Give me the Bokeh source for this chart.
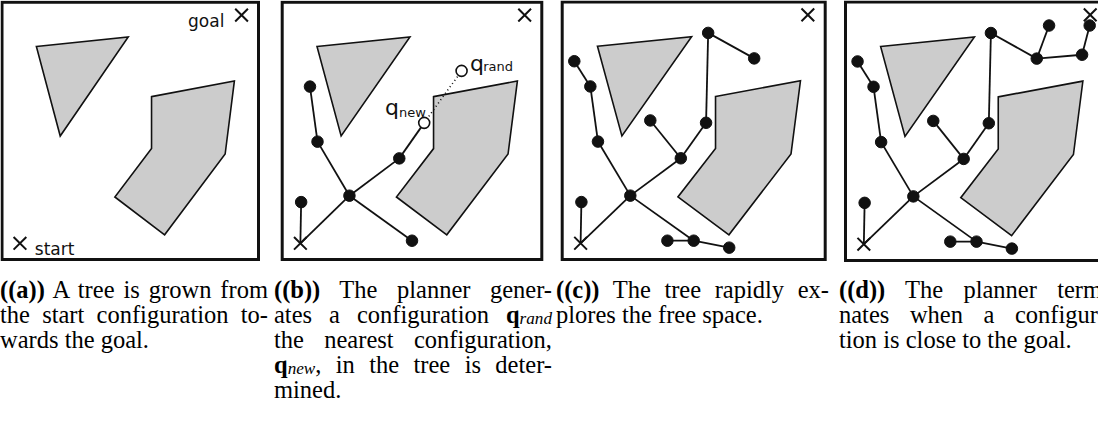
from bokeh.plotting import figure
from bokeh.layouts import row, column
from bokeh.models import Div
from bokeh.core.properties import value
from bokeh.embed import file_html
from bokeh.resources import INLINE

# ---------------- data (workspace normalised to 0..100, y up) ----------------
triangle_x = [13.4, 49.2, 22.7]
triangle_y = [82.8, 86.5, 48.0]
polygon_x = [58.3, 90.6, 87.0, 63.4, 44.0, 58.3]
polygon_y = [63.3, 69.4, 41.0, 9.6, 24.3, 43.1]

start_x, start_y = [7.0], [6.3]
goal_x, goal_y = [93.4], [95.0]

node_names = ["S", "n1", "h", "n2", "n3", "n4", "n5", "n6", "n7", "n8",
              "n9", "n10", "n11", "n12", "n13", "n14", "n15"]
node_x = [7.0, 7.3, 25.9, 13.6, 10.7, 4.6, 45.1, 54.7, 33.5, 55.5,
          73.0, 50.0, 40.0, 63.5, 77.7, 90.3, 93.2]
node_y = [6.3, 22.3, 24.8, 45.8, 67.2, 77.0, 39.3, 53.1, 54.0, 88.0,
          78.1, 7.3, 7.3, 4.6, 90.9, 79.6, 90.9]
edges = [("S", "n1"), ("S", "h"), ("h", "n2"), ("n2", "n3"), ("n3", "n4"),
         ("h", "n5"), ("n5", "n6"), ("n5", "n7"), ("n6", "n8"), ("n8", "n9"),
         ("h", "n10"), ("n10", "n11"), ("n10", "n12"), ("n9", "n13"),
         ("n9", "n14"), ("n14", "n15")]

nodes_b = ["n1", "h", "n2", "n3", "n5", "n10"]
nodes_c = ["n1", "h", "n2", "n3", "n4", "n5", "n6", "n7", "n8", "n9",
           "n10", "n11", "n12"]
nodes_d = nodes_c + ["n13", "n14", "n15"]

qnew_x, qnew_y = [54.7], [53.1]
qrand_x, qrand_y = [69.1], [73.3]
q_label_x = [39.6, 72.3]
q_label_y = [59.1, 76.2]
q_sub_x = [45.0, 77.4]
q_sub_y = [57.2, 75.2]
q_sub_text = ["new", "rand"]

label_a_text = ["goal", "start"]
label_a_x = [86.7, 12.8]
label_a_y = [92.8, 4.0]

captions = [
    ["<b>((a))</b> A tree is grown from", "the start configuration to-",
     "wards the goal."],
    ["<b>((b))</b> The planner gener-",
     "ates a configuration <b>q</b><SUB>rand</SUB>",
     "the nearest configuration,",
     "<b>q</b><SUB>new</SUB>, in the tree is deter-", "mined."],
    ["<b>((c))</b> The tree rapidly ex-", "plores the free space."],
    ["<b>((d))</b> The planner termi-", "nates when a configura-",
     "tion is close to the goal."],
]

# ---------------- layout constants (pixels) ----------------
Y0, H = 8, 277
cols = [  # canvas x0, width, box left, right, top, bottom (border centres)
    (8, 274, 9.5, 266.0, 9.7, 267.0),
    (282, 282, 289.7, 549.3, 9.7, 267.0),
    (564, 283, 569.7, 832.7, 9.5, 267.0),
    (847, 259, 853.0, 1115.0, 9.5, 268.0),
]
cap_left = [8, 282, 564, 847]
cap_width = [268, 278, 273, 278]
LINE_H = 25

BLACK = "#111111"
SANS = value("DejaVu Sans")
idx = {n: i for i, n in enumerate(node_names)}


def make_panel(k, tree_nodes, open_nodes=False):
    X0, W, L, R, T, B = cols[k]
    sx = 100.0 / (R - L)
    sy = 100.0 / (B - T)
    p = figure(width=W, height=H,
               x_range=((X0 - L) * sx, (X0 + W - L) * sx),
               y_range=((B - (Y0 + H)) * sy, (B - Y0) * sy),
               output_backend="svg", toolbar_location=None,
               x_axis_location=None, y_axis_location=None,
               min_border=0, outline_line_color=None,
               background_fill_color="white", border_fill_color="white")
    p.xgrid.visible = False
    p.ygrid.visible = False
    p.patch([0, 100, 100, 0], [0, 0, 100, 100], fill_color=None,
            line_color=BLACK, line_width=3, line_join="miter")
    p.patch(triangle_x, triangle_y, fill_color="#cccccc", line_color=BLACK,
            line_width=1.6, line_join="miter")
    p.patch(polygon_x, polygon_y, fill_color="#cccccc", line_color=BLACK,
            line_width=1.6, line_join="miter")
    if tree_nodes is not None:
        members = set(tree_nodes) | {"S"}
        if open_nodes:
            members |= {"n6"}
        ex0, ey0, ex1, ey1 = [], [], [], []
        for a, b in edges:
            if a in members and b in members:
                ex0.append(node_x[idx[a]]); ey0.append(node_y[idx[a]])
                ex1.append(node_x[idx[b]]); ey1.append(node_y[idx[b]])
        p.segment(ex0, ey0, ex1, ey1, line_color=BLACK, line_width=1.8)
        if open_nodes:
            p.line(qnew_x + qrand_x, qnew_y + qrand_y, line_color=BLACK,
                   line_width=1.6, line_dash="1 3")
        p.scatter([node_x[idx[n]] for n in tree_nodes],
                  [node_y[idx[n]] for n in tree_nodes],
                  size=11.5, fill_color=BLACK, line_color=BLACK)
        if open_nodes:
            p.scatter(qnew_x + qrand_x, qnew_y + qrand_y, size=11,
                      fill_color="white", line_color=BLACK, line_width=1.6)
            p.text(q_label_x, q_label_y, text=["q", "q"], text_font=SANS,
                   text_font_size="22px", text_color=BLACK,
                   text_align="left", text_baseline="alphabetic")
            p.text(q_sub_x, q_sub_y, text=q_sub_text, text_font=SANS,
                   text_font_size="13px", text_color=BLACK,
                   text_align="left", text_baseline="alphabetic")
    p.scatter(start_x + goal_x, start_y + goal_y, marker="x", size=18,
              line_color=BLACK, line_width=2)
    return p


pa = make_panel(0, None)
pa.text(label_a_x[:1], label_a_y[:1], text=label_a_text[:1], text_font=SANS,
        text_font_size="17px", text_color=BLACK, text_align="right",
        text_baseline="alphabetic")
pa.text(label_a_x[1:], label_a_y[1:], text=label_a_text[1:], text_font=SANS,
        text_font_size="17px", text_color=BLACK, text_align="left",
        text_baseline="alphabetic")
pb = make_panel(1, nodes_b, open_nodes=True)
pc = make_panel(2, nodes_c)
pd = make_panel(3, nodes_d)

SUB = ('<span style="font-size:0.7em;font-style:italic;position:relative;'
       'top:1px">')


def caption_html(lines, inner_w):
    out = []
    for i, ln in enumerate(lines):
        ln = ln.replace("<SUB>", SUB).replace("</SUB>", "</span>")
        last = i == len(lines) - 1
        al = "left" if last else "justify"
        out.append('<div style="text-align:%s;text-align-last:%s;'
                   'height:%dpx">%s</div>' % (al, al, LINE_H, ln))
    return ('<div style="width:%dpx;font-family:\'Liberation Serif\';'
            'font-size:24.5px;line-height:%dpx;color:#000">%s</div>'
            % (inner_w, LINE_H, "".join(out)))


divs = []
for k, lines in enumerate(captions):
    X0, W = cols[k][0], cols[k][1]
    pad = cap_left[k] - X0
    d = Div(text=caption_html(lines, cap_width[k]), width=W, height=140,
            margin=0,
            styles={"overflow": "hidden", "padding-left": "%dpx" % pad})
    divs.append(d)

layout = column(row(pa, pb, pc, pd), row(*divs))
open("out.html", "w").write(file_html(layout, INLINE))
